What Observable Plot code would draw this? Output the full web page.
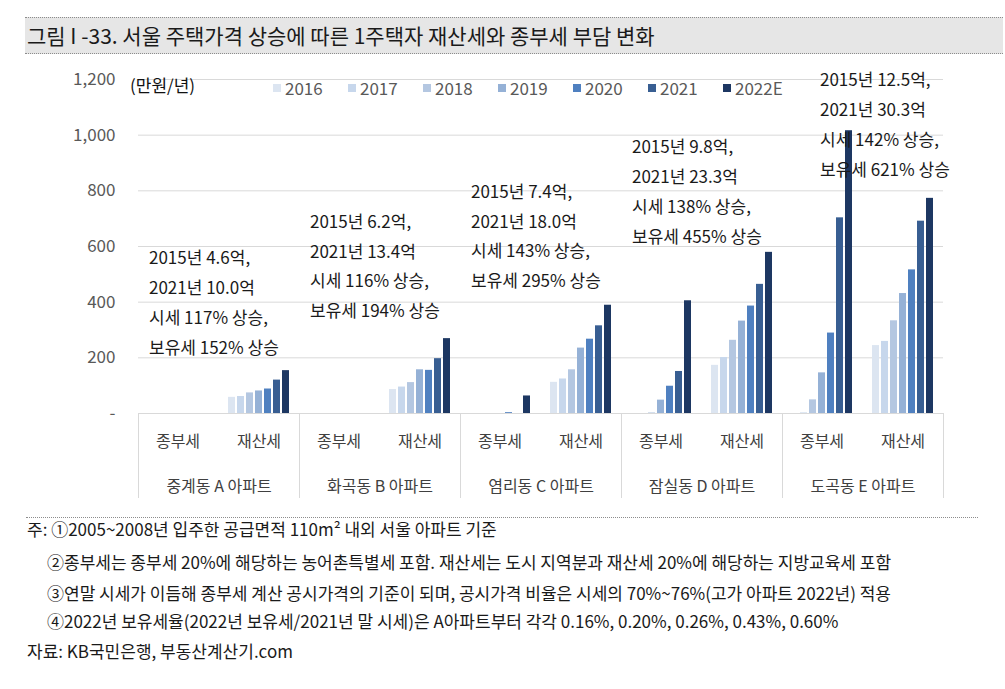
<!DOCTYPE html>
<html><head><meta charset="utf-8">
<script src="https://cdn.jsdelivr.net/npm/d3@7"></script>
<script src="https://cdn.jsdelivr.net/npm/@observablehq/plot@0.6"></script>
<style>
body{margin:0;background:#fff;font-family:"Noto Sans CJK KR","Noto Sans",sans-serif;width:1005px;height:689px;position:relative;overflow:hidden}
#title{position:absolute;left:25px;top:17px;width:978px;height:35px;background:#e6e6e6;border-top:1px dotted #8c8c8c;border-bottom:1px dotted #8c8c8c}
#title span{position:absolute;left:2px;top:50%;transform:translateY(-52%);font-size:21px;color:#1a1a1a;white-space:nowrap}
#chart{position:absolute;left:0;top:60px}
#unit{position:absolute;left:130px;top:74px;font-size:17px;line-height:22px;color:#111}
#legend{position:absolute;left:273px;top:77px;display:flex;align-items:center}
#legend .it{display:inline-flex;align-items:center;width:75px;font-size:17px;line-height:22px;color:#595959}
#legend .sw{display:inline-block;width:8px;height:8px;margin-right:4px}
#notes{position:absolute;left:26px;top:517px;width:952px;height:1px;border-top:1px dotted #8c8c8c}
.note{position:absolute;font-size:17px;line-height:20px;color:#1a1a1a;white-space:nowrap}
</style></head>
<body>
<div id="title"><span>그림 I -33. 서울 주택가격 상승에 따른 1주택자 재산세와 종부세 부담 변화</span></div>
<div id="chart"></div>
<div id="unit">(만원/년)</div>
<div id="legend"></div>
<div id="notes"></div>
<div class="note" style="left:27px;top:519px">주: ①2005~2008년 입주한 공급면적 110m² 내외 서울 아파트 기준</div>
<div class="note" style="left:47px;top:552px">②종부세는 종부세 20%에 해당하는 농어촌특별세 포함. 재산세는 도시 지역분과 재산세 20%에 해당하는 지방교육세 포함</div>
<div class="note" style="left:47px;top:583px">③연말 시세가 이듬해 종부세 계산 공시가격의 기준이 되며, 공시가격 비율은 시세의 70%~76%(고가 아파트 2022년) 적용</div>
<div class="note" style="left:47px;top:611px">④2022년 보유세율(2022년 보유세/2021년 말 시세)은 A아파트부터 각각 0.16%, 0.20%, 0.26%, 0.43%, 0.60%</div>
<div class="note" style="left:27px;top:641px">자료: KB국민은행, 부동산계산기.com</div>
<script>
const years = ["2016","2017","2018","2019","2020","2021","2022E"];
const locations = ["중계동 A 아파트","화곡동 B 아파트","염리동 C 아파트","잠실동 D 아파트","도곡동 E 아파트"];
const taxTypes = ["종부세","재산세"];
// 종부세 (만원/년), per location, 2016..2022E
const jongbuse = [
  [0,0,0,0,0,0,0],
  [0,0,0,0,0,0,0],
  [0,0,0,0,3,0,63],
  [0,0,2,48,98,151,405],
  [0,2,49,146,289,703,1016]
];
// 재산세 (만원/년)
const jaesanse = [
  [58,61,74,81,88,120,154],
  [86,95,111,157,155,197,269],
  [112,124,157,235,267,315,389],
  [173,201,263,332,386,464,579],
  [244,259,333,431,516,691,773]
];
const annotationTexts = [
  "2015년 4.6억,\n2021년 10.0억\n시세 117% 상승,\n보유세 152% 상승",
  "2015년 6.2억,\n2021년 13.4억\n시세 116% 상승,\n보유세 194% 상승",
  "2015년 7.4억,\n2021년 18.0억\n시세 143% 상승,\n보유세 295% 상승",
  "2015년 9.8억,\n2021년 23.3억\n시세 138% 상승,\n보유세 455% 상승",
  "2015년 12.5억,\n2021년 30.3억\n시세 142% 상승,\n보유세 621% 상승"
];
const yTicks = [0,200,400,600,800,1000,1200];
const colors = ["#dce5f1","#c7d7ec","#b4c7e1","#95b1d6","#4f80c0","#385e92","#1d3762"];

// annotation placement (layout)
const annotYear = ["2016","2016","2016","2016","2019"];
const annotY = [614, 744, 852, 1013, 1252];

const rows = [];
locations.forEach((loc, li) => {
  years.forEach((yr, yi) => {
    rows.push({loc, type: taxTypes[0], year: yr, key: taxTypes[0] + "|" + yr, value: jongbuse[li][yi]});
    rows.push({loc, type: taxTypes[1], year: yr, key: taxTypes[1] + "|" + yr, value: jaesanse[li][yi]});
  });
});
const xDomain = [...years.map(y => taxTypes[0] + "|" + y), "gap1", "gap2", ...years.map(y => taxTypes[1] + "|" + y)];
const typeLabels = locations.flatMap(loc => taxTypes.map(t => ({loc, type: t, key: t + "|" + years[3]})));
const annots = locations.map((loc, i) => ({loc, key: taxTypes[0] + "|" + annotYear[i], y: annotY[i], text: annotationTexts[i]}));

const chart = Plot.plot({
  width: 1005, height: 450,
  marginLeft: 137, marginRight: 62, marginTop: 19, marginBottom: 97,
  style: {fontFamily: '"Noto Sans CJK KR", sans-serif', fontSize: "17px", color: "#595959", background: "transparent", overflow: "visible"},
  fx: {domain: locations, padding: 0, label: null},
  x: {domain: xDomain, paddingInner: 0.203, paddingOuter: 1.027, axis: null},
  y: {domain: [0, 1200]},
  color: {domain: years, range: colors},
  marks: [
    Plot.gridY({ticks: yTicks, stroke: "#d9d9d9", strokeOpacity: 1}),
    Plot.frame({anchor: "left", stroke: "#d9d9d9", insetTop: 334, insetBottom: -84}),
    Plot.frame({anchor: "right", stroke: "#d9d9d9", insetTop: 334, insetBottom: -84}),
    Plot.barY(rows, {fx: "loc", x: "key", y: "value", fill: "year"}),
    Plot.axisY({ticks: yTicks, tickSize: 0, tickPadding: 23, label: null, fontSize: 17, fill: "#595959",
      tickFormat: d => d === 0 ? "-" : d3.format(",")(d)}),
    Plot.axisFx({anchor: "bottom", tickSize: 0, tickPadding: 67, label: null, fontSize: 16, fill: "#404040"}),
    Plot.text(typeLabels, {fx: "loc", x: "key", text: "type", frameAnchor: "bottom", dy: 33, fontSize: 16, fill: "#404040"}),
    Plot.text(annots, {fx: "loc", x: "key", y: "y", text: "text", textAnchor: "start", lineAnchor: "top", lineHeight: 1.76, fontSize: 17, fill: "#1a1a1a", dx: -2})
  ]
});
document.getElementById("chart").appendChild(chart);

const legend = document.getElementById("legend");
years.forEach((yr, i) => {
  const it = document.createElement("span");
  it.className = "it";
  const sw = document.createElement("span");
  sw.className = "sw";
  sw.style.background = colors[i];
  it.appendChild(sw);
  it.appendChild(document.createTextNode(yr));
  legend.appendChild(it);
});
</script>
</body></html>
